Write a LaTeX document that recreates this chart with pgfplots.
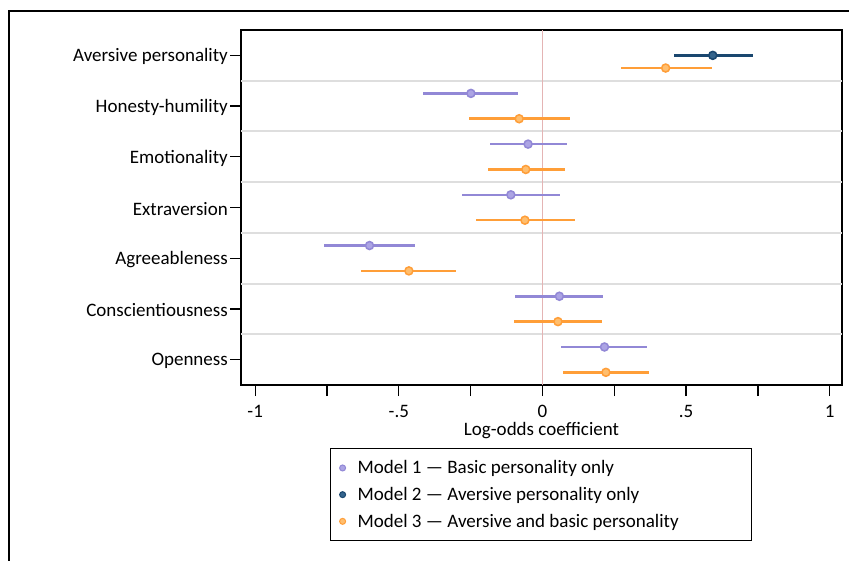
\documentclass[border=0pt]{standalone}
\usepackage{fontspec}
\setmainfont{Carlito}
\usepackage{pgfplots}
\usepackage{pgfplotstable}
\pgfplotsset{compat=1.18}
\definecolor{mone}{RGB}{146,136,214}
\definecolor{monef}{RGB}{172,164,228}
\definecolor{mtwo}{RGB}{26,71,111}
\definecolor{mtwof}{RGB}{52,100,140}
\definecolor{mthree}{RGB}{255,158,56}
\definecolor{mthreef}{RGB}{255,190,110}
\definecolor{refcol}{RGB}{228,180,180}
\definecolor{sepcol}{RGB}{222,222,222}
\newcommand{\fs}{\fontsize{19pt}{23pt}\selectfont}

\pgfplotstableread{
y b lo hi
1.75 -0.249 -0.415 -0.084
2.75 -0.050 -0.183 0.087
3.75 -0.110 -0.281 0.061
4.75 -0.602 -0.762 -0.443
5.75 0.059 -0.094 0.210
6.75 0.216 0.066 0.363
}\modelone
\pgfplotstableread{
y b lo hi
1.00 0.593 0.457 0.733
}\modeltwo
\pgfplotstableread{
y b lo hi
1.25 0.429 0.272 0.589
2.25 -0.081 -0.257 0.095
3.25 -0.058 -0.190 0.077
4.25 -0.061 -0.232 0.114
5.25 -0.465 -0.633 -0.300
6.25 0.054 -0.099 0.206
7.25 0.221 0.073 0.370
}\modelthree

\begin{document}
\begin{tikzpicture}
\path[use as bounding box] (0,0) rectangle (849pt,560pt);
\fill[white] (0,0) rectangle (849pt,560pt);
\draw[black, line width=1.5pt] (9pt,-10pt) -- (9pt,549pt) -- (870pt,549pt);
\begin{axis}[
  at={(241pt,175pt)}, anchor=south west,
  scale only axis, width=601pt, height=355pt,
  xmin=-1.0495, xmax=1.043,
  ymin=0.5, ymax=7.5, y dir=reverse,
  axis line style={black, line width=1.3pt},
  tick style={black, line width=1.3pt},
  tick align=outside, major tick length=11pt, minor tick length=11pt,
  xtick={-1,-0.5,0,0.5,1},
  xticklabels={-1,-.5,0,.5,1},
  minor xtick={-0.75,-0.25,0.25,0.75},
  xtick pos=bottom, ytick pos=left,
  ytick={1,2,3,4,5,6,7},
  yticklabels={Aversive personality,Honesty-humility,Emotionality,Extraversion,Agreeableness,Conscientiousness,Openness},
  tick label style={font=\fs},
  yticklabel style={inner xsep=2pt, yshift=-1.5pt},
  xticklabel style={inner ysep=3pt, yshift=-6pt},
  xlabel={Log-odds coefficient},
  xlabel style={font=\fs, at={(axis description cs:0.5,-0.127)}, anchor=center},
  extra y ticks={1.5,2.5,3.5,4.5,5.5,6.5},
  extra y tick labels={},
  extra y tick style={grid=major, major tick length=0pt, major grid style={sepcol, line width=2pt}},
  legend style={at={(axis description cs:0.1481,-0.1775)}, anchor=north west,
    draw=black, line width=1.2pt, fill=white, font=\fs, row sep=8pt, column sep=10pt,
    inner xsep=9pt, inner ysep=10pt},
  legend cell align=left,
  clip=false,
]
\draw[refcol, line width=1.6pt] (axis cs:0,0.5) -- (axis cs:0,7.5);
\addplot[only marks, mark=*, mark size=4pt, color=mone, mark options={fill=monef, line width=1.5pt}, forget plot,
  error bars/.cd, x dir=both, x explicit, error mark=none,
  error bar style={line width=2.6pt, color=mone}]
  table[x=b, y=y, x error plus expr=\thisrow{hi}-\thisrow{b}, x error minus expr=\thisrow{b}-\thisrow{lo}] {\modelone};
\addplot[only marks, mark=*, mark size=4pt, color=mtwo, mark options={fill=mtwof, line width=1.5pt}, forget plot,
  error bars/.cd, x dir=both, x explicit, error mark=none,
  error bar style={line width=2.6pt, color=mtwo}]
  table[x=b, y=y, x error plus expr=\thisrow{hi}-\thisrow{b}, x error minus expr=\thisrow{b}-\thisrow{lo}] {\modeltwo};
\addplot[only marks, mark=*, mark size=4pt, color=mthree, mark options={fill=mthreef, line width=1.5pt}, forget plot,
  error bars/.cd, x dir=both, x explicit, error mark=none,
  error bar style={line width=2.6pt, color=mthree}]
  table[x=b, y=y, x error plus expr=\thisrow{hi}-\thisrow{b}, x error minus expr=\thisrow{b}-\thisrow{lo}] {\modelthree};
\addlegendimage{only marks, mark=*, mark size=3pt, color=mone, mark options={fill=monef, line width=1pt}}
\addlegendentry{\makebox[383pt][l]{Model 1 — Basic personality only}}
\addlegendimage{only marks, mark=*, mark size=3pt, color=mtwo, mark options={fill=mtwof, line width=1pt}}
\addlegendentry{\makebox[383pt][l]{Model 2 — Aversive personality only}}
\addlegendimage{only marks, mark=*, mark size=3pt, color=mthree, mark options={fill=mthreef, line width=1pt}}
\addlegendentry{\makebox[383pt][l]{Model 3 — Aversive and basic personality}}
\end{axis}
\end{tikzpicture}
\end{document}
